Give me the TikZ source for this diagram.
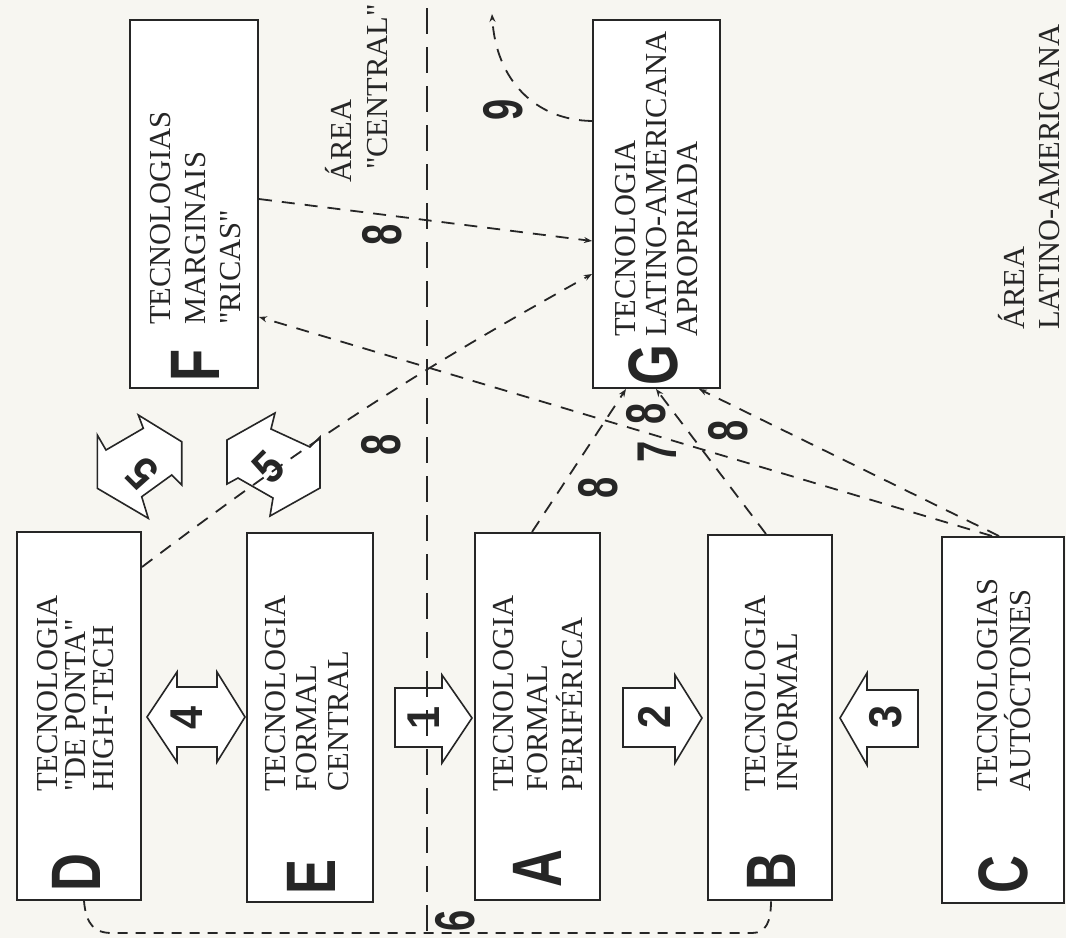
\documentclass[tikz,border=0pt]{standalone}
\usepackage{fontspec}
\usepackage{graphicx}
\setmainfont{Liberation Serif}
\newfontfamily\lsans{Liberation Sans}
\usetikzlibrary{arrows.meta,calc}
\definecolor{paper}{RGB}{247,246,241}
\definecolor{ink}{RGB}{38,38,38}
\newcommand\cond[2]{\scalebox{#1}[1]{#2}}
\newcommand\qq{\textquotedbl}
\tikzset{
  box/.style={draw=ink, line width=2pt, fill=white, inner sep=0pt},
  boxtext/.style={rotate=90, anchor=north west, inner sep=0pt, align=left, text=ink},
  arealabel/.style={rotate=90, anchor=base west, inner sep=0pt, text=ink, font=\fontsize{30.5}{34}\selectfont},
  bigletter/.style={rotate=90, inner sep=0pt, text=ink, font=\lsans\bfseries\fontsize{70}{70}\selectfont},
  num/.style={rotate=90, inner sep=0pt, text=ink, font=\lsans\bfseries\fontsize{56}{56}\selectfont},
  arrnum/.style={rotate=90, inner sep=0pt, text=ink, font=\lsans\bfseries\fontsize{46}{46}\selectfont},
  blockarrow/.style={draw=ink, line width=1.6pt, fill=white, line join=miter},
  link/.style={draw=ink, line width=1.8pt, dash pattern=on 13pt off 10pt},
  linksix/.style={draw=ink, line width=1.8pt, dash pattern=on 10pt off 8pt},
  tipend/.style={-{Stealth[length=8pt,width=6pt]}},
  divider/.style={draw=ink, line width=2.6pt, dash pattern=on 26pt off 13pt},
}
\begin{document}
\begin{tikzpicture}[x=1pt,y=-1pt]
\useasboundingbox (0,0) rectangle (1066,938);
\fill[paper] (0,0) rectangle (1066,938);

% boxes
\node[box, minimum width=124pt, minimum height=368pt] (D) at (79,716) {};
\node[box, minimum width=126pt, minimum height=369pt] (E) at (310,717.5) {};
\node[box, minimum width=125pt, minimum height=367pt] (A) at (537.5,716.5) {};
\node[box, minimum width=124pt, minimum height=365pt] (B) at (770,717.5) {};
\node[box, minimum width=122pt, minimum height=366pt] (C) at (1003,720) {};
\node[box, minimum width=128pt, minimum height=368pt] (F) at (194,204) {};
\node[box, minimum width=127pt, minimum height=368pt] (G) at (656.5,204) {};

% box texts
\node[boxtext, font=\fontsize{30.5}{28}\selectfont] (Dt) at (37,792) {TECNOLOGIA\\\qq DE PONTA\qq\\HIGH-TECH};
\node[boxtext, font=\fontsize{30.5}{31.5}\selectfont] (Et) at (265,792) {TECNOLOGIA\\FORMAL\\CENTRAL};
\node[boxtext, font=\fontsize{30.5}{34.5}\selectfont] (At) at (493,792) {TECNOLOGIA\\FORMAL\\PERIFÉRICA};
\node[boxtext, font=\fontsize{30.5}{32.5}\selectfont] (Bt) at (745,792) {TECNOLOGIA\\INFORMAL};
\node[boxtext, font=\fontsize{30.5}{33}\selectfont] (Ct) at (977,792) {TECNOLOGIAS\\AUTÓCTONES};
\node[boxtext, font=\fontsize{30.5}{35}\selectfont] (Ft) at (150,325) {TECNOLOGIAS\\MARGINAIS\\\qq RICAS\qq};
\node[boxtext, font=\fontsize{30.5}{31}\selectfont] (Gt) at (615,337) {TECNOLOGIA\\LATINO-AMERICANA\\APROPRIADA};

% big letters
\node[bigletter] (Dl) at (76,873) {\cond{0.75}{D}};
\node[bigletter] (El) at (311,877) {\cond{0.75}{E}};
\node[bigletter] (Al) at (537,869) {\cond{0.75}{A}};
\node[bigletter] (Bl) at (771,872) {\cond{0.75}{B}};
\node[bigletter] (Cl) at (1003,875) {\cond{0.75}{C}};
\node[bigletter] (Fl) at (195,365) {\cond{0.75}{F}};
\node[bigletter] (Gl) at (653,365) {\cond{0.75}{G}};

% area labels
\node[arealabel] (ac1) at (351,183) {ÁREA};
\node[arealabel] (ac2) at (387,170) {\qq CENTRAL\qq};
\node[arealabel] (al1) at (1024,330) {ÁREA};
\node[arealabel] (al2) at (1059,330) {LATINO-AMERICANA};

% block arrows
\draw[blockarrow] (395,688) -- (442,688) -- (442,675) -- (472,718) -- (442,763) -- (442,747) -- (395,747) -- cycle;
\draw[blockarrow] (623,688) -- (675,688) -- (675,675) -- (702,718) -- (675,763) -- (675,747) -- (623,747) -- cycle;
\draw[blockarrow] (918,690) -- (867,690) -- (867,673) -- (840,718) -- (867,765) -- (867,747) -- (918,747) -- cycle;
\draw[blockarrow] (147,717) -- (177,672) -- (177,687) -- (217,687) -- (217,672) -- (245,717) -- (217,762) -- (217,747) -- (177,747) -- (177,762) -- cycle;
\draw[blockarrow] (97.3,435) -- (106,450) -- (143.3,428.3) -- (138.3,415) -- (181.7,441.7) -- (181.7,485) -- (171.7,475) -- (141.7,496.7) -- (148.3,518.3) -- (97.3,488.3) -- cycle;
\draw[blockarrow] (320,437) -- (310,447) -- (271,429) -- (275,413) -- (227,440) -- (227,484) -- (238,478) -- (273,498) -- (270,516) -- (320,488) -- cycle;

\node[arrnum] (n1) at (424,718) {\cond{0.9}{1}};
\node[arrnum] (n2) at (654,717) {\cond{0.9}{2}};
\node[arrnum] (n3) at (886,717) {\cond{0.9}{3}};
\node[arrnum] (n4) at (187,718) {\cond{0.9}{4}};
\node[arrnum, rotate=45] (n5a) at (142,473) {\cond{0.9}{5}};
\node[arrnum, rotate=-45] (n5b) at (269,467) {\cond{0.9}{5}};

% divider
\coordinate (divtop) at (427,8);
\coordinate (divbot) at (427,933);
\draw[divider] (divtop) -- (divbot);

% connectors
\draw[link, tipend] ([yshift=-180pt]F.north east) -- ([yshift=-222pt]G.north west);
\draw[link, tipend] ([xshift=51pt]C.north west) -- ([yshift=-298pt]F.north east);
\draw[link, tipend] ([yshift=-36pt]D.north east) to[bend left=4] ([yshift=-255pt]G.north west);
\draw[link, tipend] ([xshift=58pt]A.north west) -- ([xshift=34pt]G.south west);
\draw[link, tipend] ([xshift=59pt]B.north west) -- ([xshift=64pt]G.south west);
\draw[link, tipend] ([xshift=58pt]C.north west) -- ([xshift=107pt]G.south west);
\coordinate (out9) at (492,14);
\draw[link, tipend] ([yshift=-102pt]G.north west) .. controls (535,120) and (496,80) .. (out9);
\draw[linksix] ([xshift=68pt]D.south west) .. controls (86,925) and (95,933) .. (112,933) -- (752,933) .. controls (766,933) and (771,922) .. ([xshift=64pt]B.south west);

% connector labels
\node[num] (l8a) at (382,235) {\cond{0.68}{8}};
\node[num] (l8b) at (381,445) {\cond{0.68}{8}};
\node[num] (l8c) at (598,488) {\cond{0.68}{8}};
\node[num] (l8d) at (646,414) {\cond{0.68}{8}};
\node[num] (l7) at (657,452) {\cond{0.68}{7}};
\node[num] (l8e) at (728,431) {\cond{0.68}{8}};
\node[num] (l9) at (503,110) {\cond{0.68}{9}};
\node[num] (l6) at (455,921) {\cond{0.68}{6}};
\end{tikzpicture}
\end{document}
